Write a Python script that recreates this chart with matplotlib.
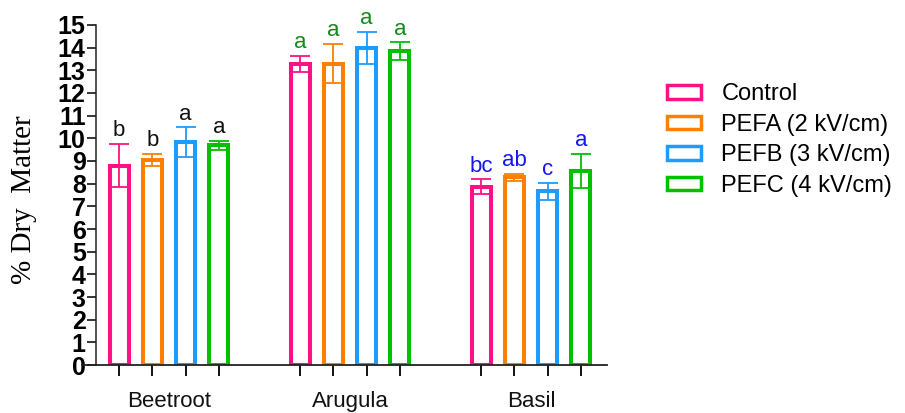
import matplotlib
matplotlib.use("Agg")

import matplotlib.pyplot as plt
import numpy as np
from matplotlib.patches import Patch
from matplotlib.transforms import blended_transform_factory


plt.rcParams["font.family"] = ["Liberation Sans", "DejaVu Sans"]

OUTPUT_PATH = "out.png"

crops = ["Beetroot", "Arugula", "Basil"]
treatments = ["Control", "PEFA (2 kV/cm)", "PEFB (3 kV/cm)", "PEFC (4 kV/cm)"]
treatment_colors = ["#ff1186", "#ff8000", "#1e9bff", "#00c000"]

# mean % dry matter, one list per treatment (Beetroot, Arugula, Basil)
control_mean = [8.80, 13.27, 7.87]
pefa_mean = [9.05, 13.30, 8.28]
pefb_mean = [9.83, 14.00, 7.67]
pefc_mean = [9.70, 13.85, 8.55]

control_err = [0.95, 0.35, 0.32]
pefa_err = [0.25, 0.85, 0.15]
pefb_err = [0.65, 0.70, 0.38]
pefc_err = [0.20, 0.38, 0.75]

control_letters = ["b", "a", "bc"]
pefa_letters = ["b", "a", "ab"]
pefb_letters = ["a", "a", "c"]
pefc_letters = ["a", "a", "a"]

letter_colors = ["#111111", "#14891e", "#1515f0"]

y_ticks = list(range(0, 16))


def main():
    means = [control_mean, pefa_mean, pefb_mean, pefc_mean]
    errors = [control_err, pefa_err, pefb_err, pefc_err]
    letters = [control_letters, pefa_letters, pefb_letters, pefc_letters]

    fig = plt.figure(figsize=(9.05, 4.13), dpi=100)
    ax = fig.add_axes([0.0906, 0.1162, 0.5801, 0.8233])

    group_x = np.arange(len(crops))
    step = 0.184
    bar_width = 0.105
    offsets = (np.arange(len(treatments)) - 1.5) * step

    all_positions = []
    for i, (mean, err, lab, color) in enumerate(
        zip(means, errors, letters, treatment_colors)
    ):
        xs = group_x + offsets[i]
        all_positions.extend(xs)
        ax.bar(
            xs,
            mean,
            width=bar_width,
            facecolor="white",
            edgecolor=color,
            linewidth=2.9,
            zorder=2,
        )
        ax.errorbar(
            xs,
            mean,
            yerr=err,
            fmt="none",
            ecolor=color,
            elinewidth=1.3,
            capsize=7,
            capthick=1.3,
            zorder=3,
        )
        for x, m, e, text, tcolor in zip(xs, mean, err, lab, letter_colors):
            ax.annotate(
                text,
                xy=(x, m + e),
                xytext=(0, 2),
                textcoords="offset points",
                ha="center",
                va="bottom",
                fontsize=16,
                color=tcolor,
                annotation_clip=False,
            )

    ax.set_xlim(-0.481, 2.42)
    ax.set_ylim(0, 15)

    ax.spines["top"].set_visible(False)
    ax.spines["right"].set_visible(False)
    ax.spines["left"].set_position(("data", -0.403))
    ax.spines["left"].set_linewidth(1.1)
    ax.spines["bottom"].set_linewidth(1.3)
    ax.spines["left"].set_color("#222222")
    ax.spines["bottom"].set_color("#222222")

    ax.set_yticks(y_ticks)
    ax.set_yticklabels([str(t) for t in y_ticks], fontsize=18, fontweight="bold")
    ax.tick_params(axis="y", direction="out", length=6.5, width=1.1, pad=1)

    ax.set_xticks(sorted(all_positions))
    ax.set_xticklabels([])
    ax.tick_params(axis="x", direction="out", length=8, width=1.3)

    trans = blended_transform_factory(ax.transData, fig.transFigure)
    for x, name in zip(group_x, crops):
        ax.text(
            x,
            0.002,
            name,
            transform=trans,
            ha="center",
            va="bottom",
            fontsize=16,
            color="#111111",
        )

    fig.text(
        24 / 905,
        1 - 200 / 413,
        "% Dry  Matter",
        rotation=90,
        ha="center",
        va="center",
        fontsize=21,
        family="Liberation Serif",
    )

    handles = [
        Patch(facecolor="white", edgecolor=color, linewidth=2.5)
        for color in treatment_colors
    ]
    fig.legend(
        handles,
        treatments,
        loc="center left",
        bbox_to_anchor=(667 / 905, 1 - 140 / 413),
        frameon=False,
        fontsize=17,
        handlelength=1.45,
        handleheight=0.5,
        handletextpad=0.85,
        labelspacing=0.36,
        borderpad=0,
        borderaxespad=0,
    )

    fig.savefig(OUTPUT_PATH, dpi=100)
    plt.close(fig)


if __name__ == "__main__":
    main()
